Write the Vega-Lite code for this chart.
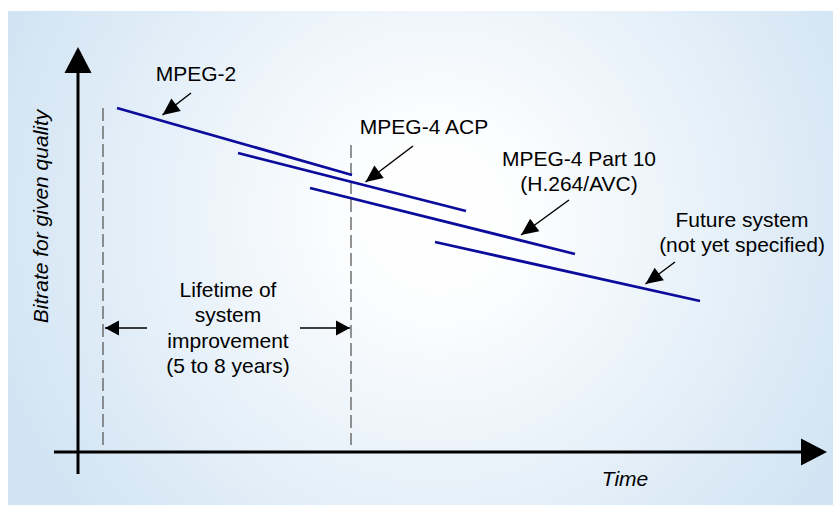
{
  "$schema": "https://vega.github.io/schema/vega-lite/v6.json",
  "width": 833,
  "height": 505,
  "padding": 0,
  "autosize": {"type": "fit", "contains": "padding"},
  "background": "white",
  "config": {"view": {"stroke": null}},
  "datasets": {
    "panel": [{"x": 8, "x2": 833, "y": 11, "y2": 505}],
    "codecs": [
      {"system": "MPEG-2", "x": 117, "y": 108, "x2": 352, "y2": 175},
      {"system": "MPEG-4 ACP", "x": 238, "y": 153, "x2": 466, "y2": 211},
      {"system": "MPEG-4 Part 10", "x": 310, "y": 188, "x2": 575, "y2": 254},
      {"system": "Future system", "x": 435, "y": 242, "x2": 700, "y2": 301}
    ],
    "axes": [
      {"axis": "bitrate", "x": 78, "y": 474, "x2": 78, "y2": 68},
      {"axis": "time", "x": 54, "y": 452, "x2": 804, "y2": 452}
    ],
    "axisHeads": [
      {"axis": "bitrate", "x": 78, "y": 47, "angle": 0},
      {"axis": "time", "x": 827, "y": 452, "angle": 90}
    ],
    "guides": [
      {"x": 103, "y": 108, "x2": 103, "y2": 445},
      {"x": 351, "y": 145, "x2": 351, "y2": 445}
    ],
    "pointers": [
      {"label": "MPEG-2", "x": 191, "y": 93, "x2": 162.5, "y2": 115, "angle": 233},
      {"label": "MPEG-4 ACP", "x": 413, "y": 146, "x2": 365.5, "y2": 182, "angle": 233},
      {"label": "MPEG-4 Part 10", "x": 569, "y": 200, "x2": 521, "y2": 235, "angle": 234},
      {"label": "Future system", "x": 675, "y": 262, "x2": 645.5, "y2": 284, "angle": 234}
    ],
    "spans": [
      {"side": "left", "x": 147, "y": 328, "x2": 105, "y2": 328, "angle": 270},
      {"side": "right", "x": 300, "y": 328, "x2": 350, "y2": 328, "angle": 90}
    ],
    "labels": [
      {"text": "MPEG-2", "x": 196, "y": 80.5},
      {"text": "MPEG-4 ACP", "x": 424, "y": 134},
      {"text": "MPEG-4 Part 10", "x": 579, "y": 166},
      {"text": "(H.264/AVC)", "x": 579, "y": 191},
      {"text": "Future system", "x": 742, "y": 227},
      {"text": "(not yet specified)", "x": 742, "y": 252},
      {"text": "Lifetime of", "x": 228, "y": 296.5},
      {"text": "system", "x": 228, "y": 322},
      {"text": "improvement", "x": 228, "y": 347.5},
      {"text": "(5 to 8 years)", "x": 228, "y": 373}
    ],
    "xTitle": [{"text": "Time", "x": 625, "y": 486}],
    "yTitle": [{"text": "Bitrate for given quality", "x": 48, "y": 216.5}]
  },
  "layer": [
    {
      "data": {"name": "panel"},
      "mark": {
        "type": "rect",
        "fill": {
          "gradient": "radial",
          "x1": 0.52, "y1": 0.45, "r1": 0,
          "x2": 0.52, "y2": 0.45, "r2": 0.56,
          "stops": [
            {"offset": 0, "color": "#ffffff"},
            {"offset": 0.2, "color": "#fcfdfe"},
            {"offset": 0.6, "color": "#e7f1f9"},
            {"offset": 1, "color": "#d2e4f3"}
          ]
        }
      },
      "encoding": {
        "x": {"field": "x", "type": "quantitative", "scale": {"domain": [0, 833], "nice": false, "zero": false}, "axis": null},
        "x2": {"field": "x2"},
        "y": {"field": "y", "type": "quantitative", "scale": {"domain": [0, 505], "nice": false, "zero": false, "reverse": true}, "axis": null},
        "y2": {"field": "y2"}
      }
    },
    {
      "data": {"name": "guides"},
      "mark": {"type": "rule", "color": "#5a5a5a", "strokeWidth": 1.3, "strokeDash": [13, 5]},
      "encoding": {
        "x": {"field": "x", "type": "quantitative"},
        "x2": {"field": "x2"},
        "y": {"field": "y", "type": "quantitative"},
        "y2": {"field": "y2"}
      }
    },
    {
      "data": {"name": "axes"},
      "mark": {"type": "rule", "color": "#000000", "strokeWidth": 3},
      "encoding": {
        "x": {"field": "x", "type": "quantitative"},
        "x2": {"field": "x2"},
        "y": {"field": "y", "type": "quantitative"},
        "y2": {"field": "y2"}
      }
    },
    {
      "data": {"name": "axisHeads"},
      "mark": {"type": "point", "shape": "M0,0L0.52,1L-0.52,1Z", "size": 2704, "filled": true, "color": "#000000", "opacity": 1, "strokeWidth": 0},
      "encoding": {
        "x": {"field": "x", "type": "quantitative"},
        "y": {"field": "y", "type": "quantitative"},
        "angle": {"field": "angle", "type": "quantitative", "scale": null}
      }
    },
    {
      "data": {"name": "codecs"},
      "mark": {"type": "rule", "color": "#0c0c9c", "strokeWidth": 2.8},
      "encoding": {
        "x": {"field": "x", "type": "quantitative"},
        "x2": {"field": "x2"},
        "y": {"field": "y", "type": "quantitative"},
        "y2": {"field": "y2"}
      }
    },
    {
      "data": {"name": "pointers"},
      "mark": {"type": "rule", "color": "#000000", "strokeWidth": 1.5},
      "encoding": {
        "x": {"field": "x", "type": "quantitative"},
        "x2": {"field": "x2"},
        "y": {"field": "y", "type": "quantitative"},
        "y2": {"field": "y2"}
      }
    },
    {
      "data": {"name": "pointers"},
      "mark": {"type": "point", "shape": "M0,0L0.46,1L-0.46,1Z", "size": 1156, "filled": true, "color": "#000000", "opacity": 1, "strokeWidth": 0},
      "encoding": {
        "x": {"field": "x2", "type": "quantitative"},
        "y": {"field": "y2", "type": "quantitative"},
        "angle": {"field": "angle", "type": "quantitative", "scale": null}
      }
    },
    {
      "data": {"name": "spans"},
      "mark": {"type": "rule", "color": "#000000", "strokeWidth": 1.5},
      "encoding": {
        "x": {"field": "x", "type": "quantitative"},
        "x2": {"field": "x2"},
        "y": {"field": "y", "type": "quantitative"},
        "y2": {"field": "y2"}
      }
    },
    {
      "data": {"name": "spans"},
      "mark": {"type": "point", "shape": "M0,0L0.54,1L-0.54,1Z", "size": 784, "filled": true, "color": "#000000", "opacity": 1, "strokeWidth": 0},
      "encoding": {
        "x": {"field": "x2", "type": "quantitative"},
        "y": {"field": "y2", "type": "quantitative"},
        "angle": {"field": "angle", "type": "quantitative", "scale": null}
      }
    },
    {
      "data": {"name": "labels"},
      "mark": {"type": "text", "font": "Liberation Sans", "fontSize": 21, "color": "#000000", "align": "center", "baseline": "alphabetic"},
      "encoding": {
        "x": {"field": "x", "type": "quantitative"},
        "y": {"field": "y", "type": "quantitative"},
        "text": {"field": "text"}
      }
    },
    {
      "data": {"name": "xTitle"},
      "mark": {"type": "text", "font": "Liberation Sans", "fontSize": 21, "fontStyle": "italic", "color": "#000000", "align": "center", "baseline": "alphabetic"},
      "encoding": {
        "x": {"field": "x", "type": "quantitative"},
        "y": {"field": "y", "type": "quantitative"},
        "text": {"field": "text"}
      }
    },
    {
      "data": {"name": "yTitle"},
      "mark": {"type": "text", "font": "Liberation Sans", "fontSize": 21, "fontStyle": "italic", "color": "#000000", "align": "center", "baseline": "alphabetic", "angle": 270},
      "encoding": {
        "x": {"field": "x", "type": "quantitative"},
        "y": {"field": "y", "type": "quantitative"},
        "text": {"field": "text"}
      }
    }
  ]
}
